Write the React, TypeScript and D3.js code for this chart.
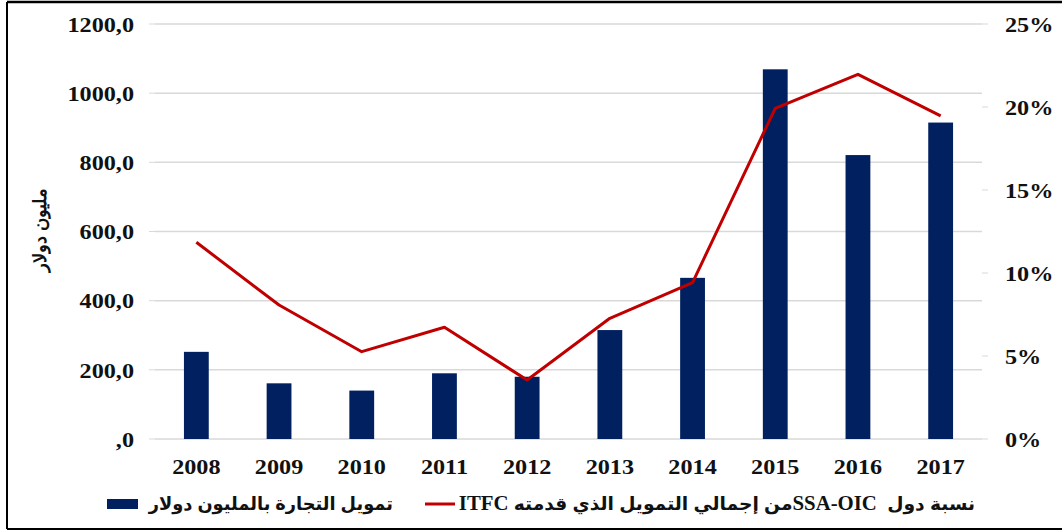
import React from "react";
import * as d3 from "d3";

const years = ["2008", "2009", "2010", "2011", "2012", "2013", "2014", "2015", "2016", "2017"];
const tradeFinance = [252, 161, 140, 190, 180, 315, 466, 1069, 821, 915];
const sharePct = [11.85, 8.07, 5.26, 6.73, 3.55, 7.27, 9.42, 19.92, 21.97, 19.46];
const leftTicks = [0, 200, 400, 600, 800, 1000, 1200];
const rightTicks = [0, 5, 10, 15, 20, 25];
const barLegend = "تمويل التجارة بالمليون دولار";
const lineLegendA = "نسبة دول\u00A0\u00A0";
const lineLegendB = "SSA-OIC";
const lineLegendC = "من إجمالي التمويل الذي قدمته ";
const lineLegendD = "ITFC";
const yTitle = "مليون دولار";

const W = 1062;
const H = 531;
const plot = { left: 155, right: 982, top: 24, bottom: 439 };
const SX = 1.1;

export default function App() {
  const x = d3.scaleBand().domain(years).range([plot.left, plot.right]).paddingInner(0.7).paddingOuter(0.35);
  const xc = d3.scaleBand().domain(years).range([plot.left, plot.right]);
  const yL = d3.scaleLinear().domain([0, 1200]).range([plot.bottom, plot.top]);
  const yR = d3.scaleLinear().domain([0, 25]).range([plot.bottom, plot.top]);
  const line = d3
    .line<number>()
    .x((_, i) => (xc(years[i]) as number) + xc.bandwidth() / 2)
    .y((d) => yR(d));
  const fmtL = (v: number) => (v === 0 ? ",0" : `${v},0`);
  const serif = "'Liberation Serif', 'Times New Roman', serif";
  const sans = "Arial, 'Liberation Sans', 'DejaVu Sans', sans-serif";

  const Lbl = ({ x: tx, y: ty, anchor, children }: { x: number; y: number; anchor: string; children: React.ReactNode }) => (
    <g transform={`translate(${tx},${ty}) scale(${SX},1)`}>
      <text x={0} y={0} dy="0.35em" textAnchor={anchor} fontFamily={serif} fontWeight="bold" fontSize={22} fill="#111">
        {children}
      </text>
    </g>
  );

  return (
    <svg width={W} height={H} style={{ position: "absolute", left: 0, top: 0, background: "#fff" }}>
      <rect x={0} y={0} width={W} height={H} fill="#fff" />
      {/* border */}
      <line x1={7} x2={W} y1={2} y2={2} stroke="#000" strokeWidth={2.5} />
      <line x1={7} x2={7} y1={2} y2={529} stroke="#000" strokeWidth={2} />
      <line x1={7} x2={W} y1={529} y2={529} stroke="#000" strokeWidth={2} />
      {/* gridlines + left axis */}
      {leftTicks.map((t) => (
        <g key={t}>
          <line x1={plot.left} x2={plot.right} y1={yL(t)} y2={yL(t)} stroke="#d9d9d9" strokeWidth={1.5} />
          <line x1={plot.left - 6} x2={plot.left} y1={yL(t)} y2={yL(t)} stroke="#d9d9d9" strokeWidth={1} />
          <Lbl x={134} y={yL(t)} anchor="end">{fmtL(t)}</Lbl>
        </g>
      ))}
      {/* right axis */}
      {rightTicks.map((t) => (
        <g key={t}>
          <line x1={plot.right} x2={plot.right + 6} y1={yR(t)} y2={yR(t)} stroke="#d9d9d9" strokeWidth={1} />
          <Lbl x={1005} y={yR(t)} anchor="start">{`${t}%`}</Lbl>
        </g>
      ))}
      {/* bars */}
      {tradeFinance.map((v, i) => (
        <rect
          key={years[i]}
          x={x(years[i])}
          y={yL(v)}
          width={x.bandwidth()}
          height={yL(0) - yL(v)}
          fill="#002060"
        />
      ))}
      {/* line */}
      <path d={line(sharePct) || ""} fill="none" stroke="#c00000" strokeWidth={3} strokeLinejoin="round" />
      {/* x labels */}
      {years.map((yr) => (
        <Lbl key={yr} x={(xc(yr) as number) + xc.bandwidth() / 2} y={466} anchor="middle">
          {yr}
        </Lbl>
      ))}
      {/* y title */}
      <text
        transform="translate(40,230) rotate(-90)"
        textAnchor="middle"
        dy="0.35em"
        fontFamily={serif}
        fontWeight="bold"
        fontSize={18}
        fill="#111"
      >
        {yTitle}
      </text>
      {/* legend */}
      <rect x={107} y={499} width={31} height={10} fill="#002060" />
      <g transform={`translate(393,504) scale(0.99,1)`}>
        <text x={0} y={0} dy="0.35em" direction="rtl" textAnchor="start" fontFamily={sans} fontWeight="bold" fontSize={18} fill="#111">
          {barLegend}
        </text>
      </g>
      <line x1={425} x2={455} y1={504} y2={504} stroke="#c00000" strokeWidth={3} />
      <g transform={`translate(975,504) scale(1.04,1)`}>
        <text x={0} y={0} dy="0.35em" direction="rtl" textAnchor="start" fontFamily={sans} fontWeight="bold" fontSize={18} fill="#111">
          <tspan>{lineLegendA}</tspan>
          <tspan fontFamily={serif} fontSize={20}>{lineLegendB}</tspan>
          <tspan>{lineLegendC}</tspan>
          <tspan fontFamily={serif} fontSize={20}>{lineLegendD}</tspan>
        </text>
      </g>
    </svg>
  );
}
